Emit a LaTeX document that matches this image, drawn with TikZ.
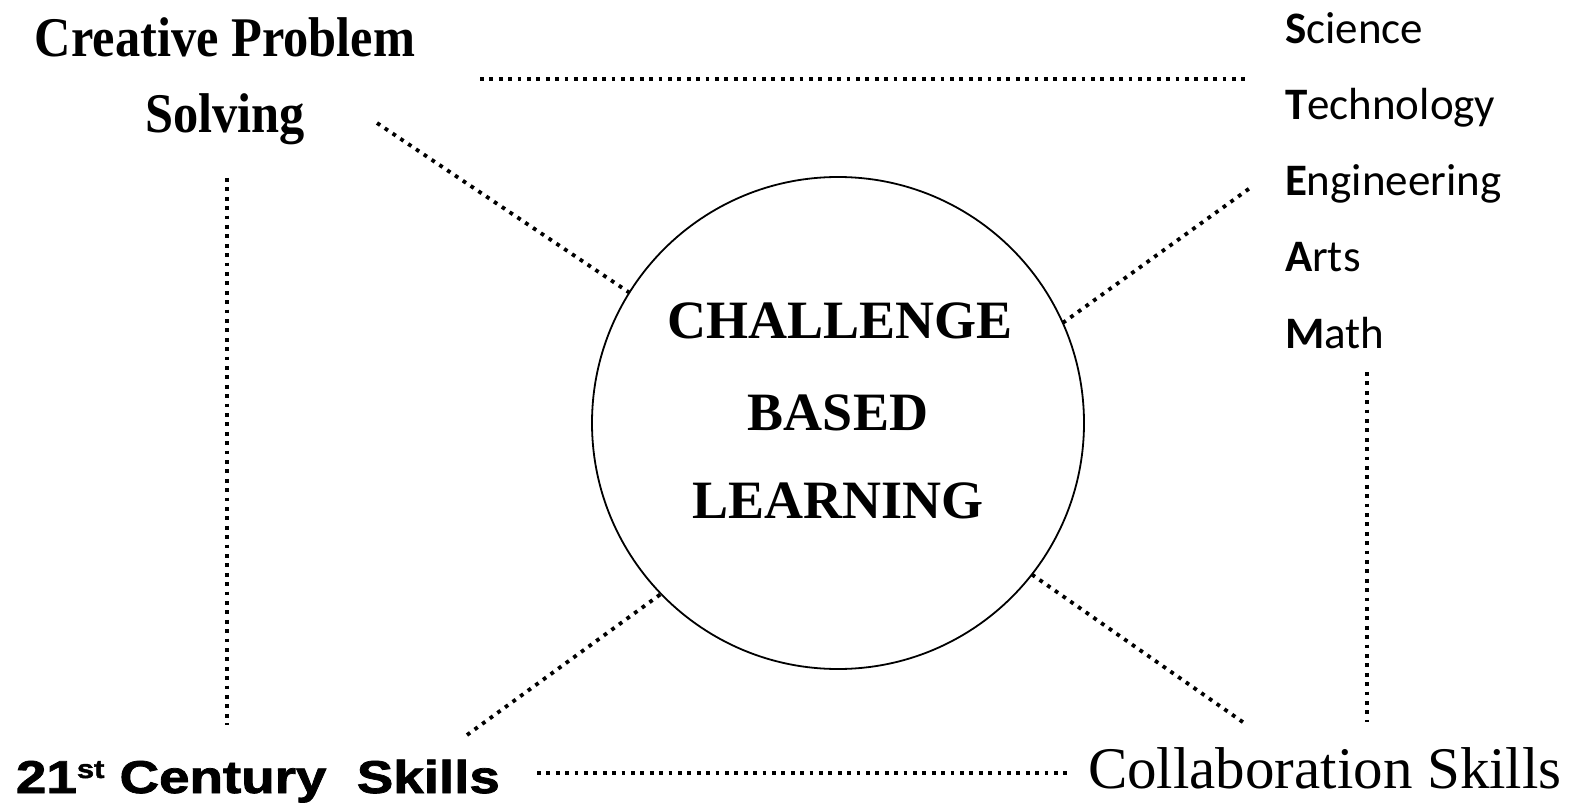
\documentclass[tikz,border=0pt]{standalone}
\usepackage{fontspec}
\setmainfont{Liberation Serif}
\newfontfamily\fserif{Liberation Serif}
\newfontfamily\fblack{Liberation Sans Bold}[FakeBold=1.6]
\newfontfamily\fcal{Carlito}
\begin{document}
\begin{tikzpicture}[x=1pt,y=-1pt,
  dots/.style={line width=3.8pt, dash pattern=on 3.8pt off 5.6pt},
  txt/.style={anchor=base, inner sep=0pt, outer sep=0pt},
  cpsfont/.style={font=\fserif\bfseries\fontsize{56}{60}\selectfont},
  cblfont/.style={font=\fserif\bfseries\fontsize{54}{60}\selectfont},
  steamfont/.style={font=\fcal\fontsize{45}{50}\selectfont},
  ringstyle/.style={circle, draw=black, line width=1.8pt, minimum size=492pt, inner sep=0pt, outer sep=0pt}
]
\useasboundingbox (0,0) rectangle (1581,810);
\fill[white] (0,0) rectangle (1581,810);

% central circle
\node[ringstyle] (cbl) at (838,423) {};
\node[txt, cblfont] (cbl1) at (840,338) {CHALLENGE};
\node[txt, cblfont] (cbl2) at (838,430) {BASED};
\node[txt, cblfont] (cbl3) at (838,518) {LEARNING};

% creative problem solving
\node[txt, cpsfont, xscale=0.9] (cps1) at (225,57) {Creative Problem};
\node[txt, cpsfont, xscale=0.9] (cps2) at (225,133) {Solving};

% STEAM
\node[txt, steamfont, anchor=base west] (sS) at (1285,44) {\textbf{S}cience};
\node[txt, steamfont, anchor=base west] (sT) at (1285,120) {\textbf{T}echnology};
\node[txt, steamfont, anchor=base west] (sE) at (1285,196) {\textbf{E}ngineering};
\node[txt, steamfont, anchor=base west] (sA) at (1285,272) {\textbf{A}rts};
\node[txt, steamfont, anchor=base west] (sM) at (1285,348) {\textbf{M}ath};

% 21st century skills
\node[txt, anchor=base west, font=\fblack\fontsize{46}{50}\selectfont, xscale=1.19] (c21) at (16,793) {21\raisebox{15pt}{\fontsize{26}{26}\selectfont st} Century\ \ Skills};

% collaboration skills
\node[txt, anchor=base west, font=\fserif\fontsize{59}{60}\selectfont] (col) at (1088,788) {Collaboration Skills};

% connector end points
\coordinate (topL) at (480,79);
\coordinate (topR) at (1248,79);
\coordinate (ulS) at (377,123);
\coordinate (lvT) at (227,178);
\coordinate (lvB) at (227,725);
\coordinate (llS) at (467,735);
\coordinate (botL) at (537,773);
\coordinate (botR) at (1068,773);
\coordinate (lrE) at (1247,725);
\coordinate (rvT) at (1367,372);
\coordinate (rvB) at (1367,722);
\coordinate (urE) at (1250,188);

\draw[dots] (topL) -- (topR);
\draw[dots] (ulS) -- (cbl.148.4);
\draw[dots] (lvT) -- (lvB);
\draw[dots] (llS) -- (cbl.224.7);
\draw[dots] (botL) -- (botR);
\draw[dots] (cbl.-38) -- (lrE);
\draw[dots] (rvT) -- (rvB);
\draw[dots] (cbl.24.8) -- (urE);
\end{tikzpicture}
\end{document}
